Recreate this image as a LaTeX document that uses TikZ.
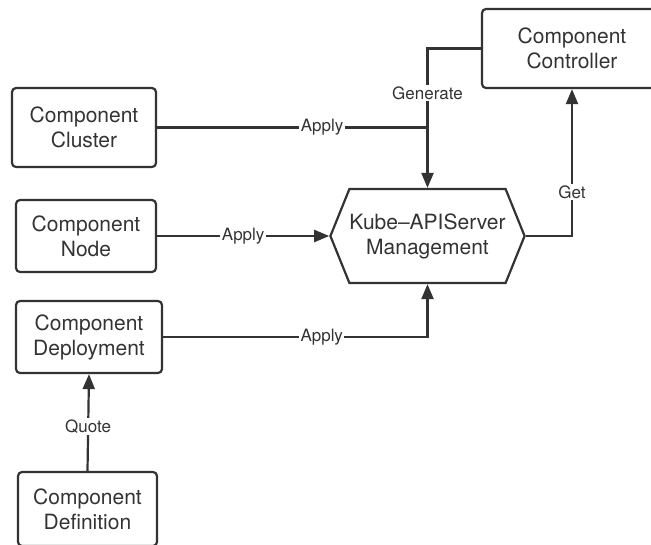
\documentclass[tikz,border=0pt]{standalone}
\usepackage{fontspec}
\setmainfont{TeX Gyre Heros}
\usetikzlibrary{arrows.meta,shapes.symbols}
\definecolor{inkGray}{HTML}{333333}

\begin{document}
\begin{tikzpicture}[
  x=1pt, y=-1pt,
  line join=miter,
  >={Triangle[length=15pt,width=12pt]},
  comp box/.style={draw=inkGray, line width=2.2pt, rounded corners=4pt,
    text=inkGray, align=center, inner sep=0pt,
    font=\fontsize{21}{25}\selectfont},
  hub box/.style={signal, signal to=west and east, signal pointer angle=136,
    draw=inkGray, line width=2.2pt, text=inkGray, align=center,
    inner sep=0pt, font=\fontsize{21}{25}\selectfont},
  link/.style={draw=inkGray, line width=2.2pt},
  tag/.style={fill=white, text=inkGray, inner sep=1.5pt,
    font=\fontsize{17}{20}\selectfont}
]
\clip (0,0) rectangle (651,544);

% components on the left, the controller top right
\node[comp box, minimum width=180pt, minimum height=79pt] (ctrl) at (572,48.5)
  {Component\\Controller};
\node[comp box, minimum width=144pt, minimum height=79pt] (clu) at (84,127.5)
  {Component\\Cluster};
\node[comp box, minimum width=140pt, minimum height=72pt] (nod) at (86,236)
  {Component\\Node};
\node[comp box, minimum width=146pt, minimum height=72pt] (dep) at (89,337)
  {Component\\Deployment};
\node[comp box, minimum width=139pt, minimum height=74pt] (def) at (87.5,509)
  {Component\\Definition};

% the API server in the middle
\node[hub box, minimum width=189pt, minimum height=94pt] (hub) at (427.5,236)
  {Kube--APIServer\\Management};

% Cluster joins the Generate line just above the hub
\coordinate (join) at (clu.east -| hub.north);
\draw[link] (clu.east) -- (join) node[tag, pos=.61] {Apply};
\draw[link, ->] (ctrl.west) -| (hub.north) node[tag, pos=.66] {Generate};
\draw[link, ->] (nod.east) -- (hub.west) node[tag, midway] {Apply};
\draw[link, ->] (dep.east) -| (hub.south) node[tag, pos=.3] {Apply};
\draw[link, ->] (hub.east) -| (ctrl.south) node[tag, pos=.65] {Get};
\draw[link, ->] (def.north) -- (dep.south) node[tag, pos=.46] {Quote};
\end{tikzpicture}
\end{document}
